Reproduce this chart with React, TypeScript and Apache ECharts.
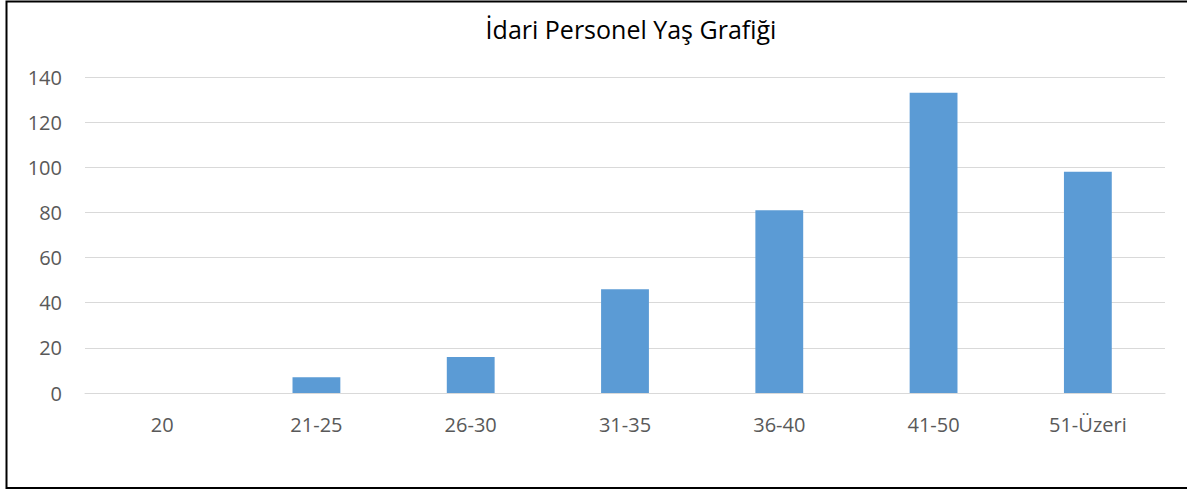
import React, { useEffect, useRef } from "react";
import * as echarts from "echarts";

const titleText = "İdari Personel Yaş Grafiği";
const categories = ["20", "21-25", "26-30", "31-35", "36-40", "41-50", "51-Üzeri"];
const values = [0, 7, 16, 46, 81, 133, 98];
const yMin = 0;
const yMax = 140;
const yInterval = 20;

const FONT = "'Open Sans', 'Noto Sans', sans-serif";

export default function App() {
  const ref = useRef<HTMLDivElement>(null);
  useEffect(() => {
    document.body.style.margin = "0";
    if (!ref.current) return;
    const chart = echarts.init(ref.current, undefined, { renderer: "svg" });
    chart.setOption({
      animation: false,
      backgroundColor: "#ffffff",
      title: {
        text: titleText,
        left: 626,
        top: 11,
        textAlign: "center",
        textStyle: { fontFamily: FONT, fontSize: 25, fontWeight: "normal", color: "#000000" },
      },
      graphic: [
        {
          type: "polyline",
          shape: { points: [[1190, 1.5], [6.5, 1.5], [6.5, 488], [1190, 488]] },
          style: { fill: "none", stroke: "#000000", lineWidth: 2 },
          z: 100,
        },
      ],
      grid: { left: 85, right: 22, top: 77, bottom: 97, containLabel: false },
      xAxis: {
        type: "category",
        data: categories,
        axisLine: { show: true, lineStyle: { color: "#d9d9d9", width: 1 } },
        axisTick: { show: false },
        axisLabel: { fontFamily: FONT, fontSize: 20, color: "#595959", margin: 21 },
      },
      yAxis: {
        type: "value",
        min: yMin,
        max: yMax,
        interval: yInterval,
        axisLine: { show: false },
        axisTick: { show: false },
        splitLine: { lineStyle: { color: "#d9d9d9", width: 1 } },
        axisLabel: { fontFamily: FONT, fontSize: 20, color: "#595959", margin: 23 },
      },
      series: [
        {
          type: "bar",
          data: values,
          barWidth: "31%",
          itemStyle: { color: "#5b9bd5" },
        },
      ],
    });
    return () => chart.dispose();
  }, []);
  return <div ref={ref} style={{ width: 1187, height: 490 }} />;
}
